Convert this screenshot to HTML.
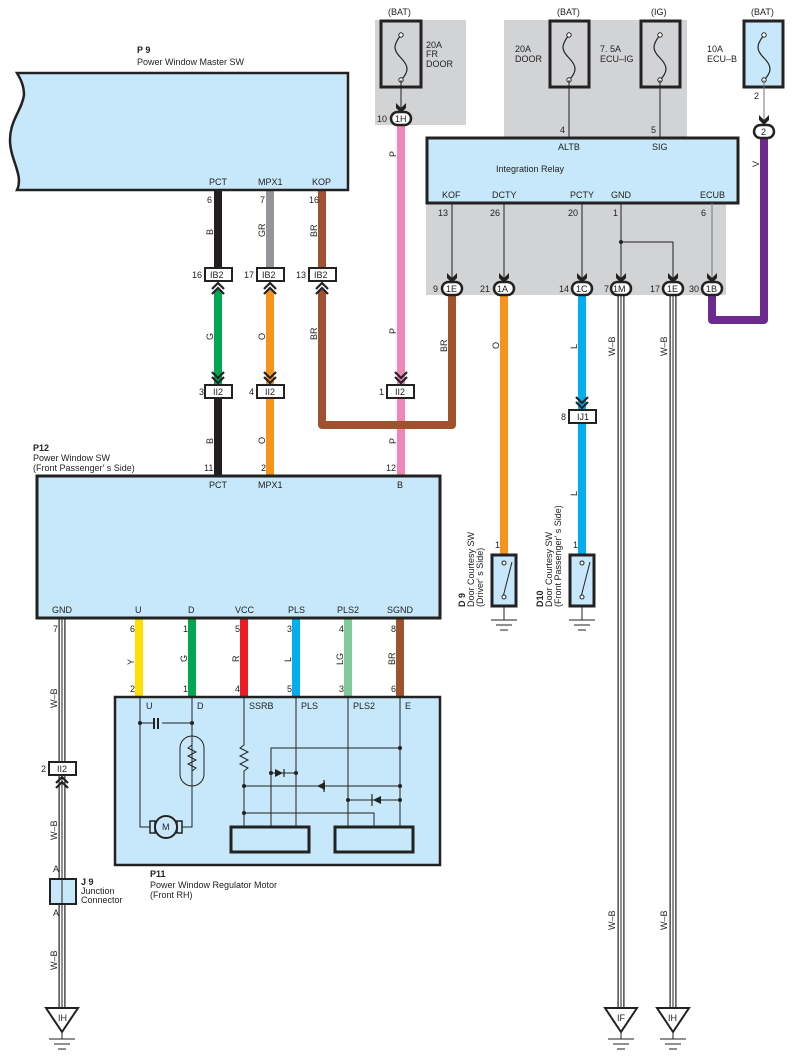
<!DOCTYPE html>
<html><head><meta charset="utf-8"><style>
html,body{margin:0;padding:0;background:#fff}
svg{display:block}
text{font-family:"Liberation Sans",sans-serif;font-size:9px;fill:#222}
.b{font-weight:bold}
</style></head><body>
<svg width="794" height="1061" viewBox="0 0 794 1061" xmlns="http://www.w3.org/2000/svg">
<defs>
<g id="dn"><path d="M-5,-9 L0,-4 L5,-9 L5,-4 L0,1 L-5,-4Z" fill="#222"/></g>
<g id="chu"><path d="M-6,6 L0,0 L6,6 M-6,11 L0,5 L6,11" stroke="#222" stroke-width="2.2" fill="none"/></g>
<g id="chd"><path d="M-6,-6 L0,0 L6,-6 M-6,-11 L0,-5 L6,-11" stroke="#222" stroke-width="2.2" fill="none"/></g>
<g id="gnd"><path d="M-13,0 H13 M-8,5 H8 M-4,10 H4" stroke="#222" stroke-width="1"/></g>
<g id="fuse"><path d="M0,-25 C-8,-15 -8,-10 0,-2 C8,6 8,12 0,20" stroke="#222" fill="none" stroke-width="1.2"/><circle cx="0" cy="-25" r="2.2" fill="#fff" stroke="#222"/><circle cx="0" cy="20" r="2.2" fill="#fff" stroke="#222"/></g>
</defs>

<!-- gray regions -->
<rect x="375" y="20" width="91" height="105" fill="#d2d3d5"/>
<rect x="504" y="20" width="183" height="120" fill="#d2d3d5"/>
<rect x="426" y="200" width="300" height="95" fill="#d2d3d5"/>

<!-- fuses -->
<text x="388" y="15">(BAT)</text>
<rect x="381" y="21" width="40" height="66" fill="none" stroke="#222" stroke-width="3"/>
<use href="#fuse" x="401" y="60"/>
<text x="426" y="48">20A</text><text x="426" y="57">FR</text><text x="426" y="67">DOOR</text>
<text x="557" y="15">(BAT)</text>
<rect x="550" y="21" width="39" height="66" fill="none" stroke="#222" stroke-width="3"/>
<use href="#fuse" x="569" y="60"/>
<text x="515" y="52">20A</text><text x="515" y="62">DOOR</text>
<text x="651" y="15">(IG)</text>
<rect x="641" y="21" width="39" height="66" fill="none" stroke="#222" stroke-width="3"/>
<use href="#fuse" x="660" y="60"/>
<text x="600" y="52">7. 5A</text><text x="600" y="62">ECU–IG</text>
<text x="751" y="15">(BAT)</text>
<rect x="744" y="21" width="39" height="66" fill="#c7e8fa" stroke="#222" stroke-width="3"/>
<use href="#fuse" x="764" y="60"/>
<text x="707" y="52">10A</text><text x="707" y="62">ECU–B</text>

<!-- fuse leads -->
<line x1="401" y1="80" x2="401" y2="112" stroke="#222"/>
<use href="#dn" x="401" y="112"/>
<line x1="569" y1="80" x2="569" y2="138" stroke="#222"/>
<text x="560" y="133">4</text>
<line x1="660" y1="80" x2="660" y2="138" stroke="#222"/>
<text x="651" y="133">5</text>
<line x1="764" y1="80" x2="764" y2="123" stroke="#777"/>
<text x="754" y="99">2</text>
<use href="#dn" x="764" y="124"/>

<!-- wires colored -->
<g fill="none" stroke-width="8" stroke-linejoin="round">
<path d="M401,124 V476" stroke="#f285b8"/>
<path d="M764,138 V320 H712 V295" stroke="#6b2a8c"/>
<path d="M218,190 V268" stroke="#231f20"/>
<path d="M218,290 V386" stroke="#00a651"/>
<path d="M218,398 V476" stroke="#231f20"/>
<path d="M270,190 V268" stroke="#939598"/>
<path d="M270,290 V476" stroke="#f7941d"/>
<path d="M322,190 V268" stroke="#a0522d"/>
<path d="M322,290 V425 H452 V295" stroke="#a0522d"/>
<path d="M504,295 V555" stroke="#f7941d"/>
<path d="M582,295 V555" stroke="#00aeef"/>
<path d="M139,618 V697" stroke="#ffde00"/>
<path d="M192,618 V697" stroke="#00a651"/>
<path d="M244,618 V697" stroke="#ed1c24"/>
<path d="M296,618 V697" stroke="#00aeef"/>
<path d="M348,618 V697" stroke="#7fcc9a"/>
<path d="M400,618 V697" stroke="#a0522d"/>
</g>
<!-- W-B triple lines -->
<g fill="none">
<path d="M62,618 V1010 M621,295 V1010 M673,295 V1010" stroke="#222" stroke-width="7"/>
<path d="M62,618 V1010 M621,295 V1010 M673,295 V1010" stroke="#fff" stroke-width="4.6"/>
<path d="M62,618 V1010 M621,295 V1010 M673,295 V1010" stroke="#222" stroke-width="1"/>
</g>

<!-- P9 -->
<text x="137" y="53" class="b">P 9</text>
<text x="137" y="65">Power Window Master SW</text>
<path d="M17,73 H348 V190 H17 C24,175 10,160 10,140 C10,120 22,110 24,95 C24,85 20,78 17,73Z" fill="#c7e8fa" stroke="#222" stroke-width="2.5"/>
<text x="209" y="185">PCT</text><text x="258" y="185">MPX1</text><text x="312" y="185">KOP</text>
<text x="207" y="203">6</text><text x="260" y="203">7</text><text x="309" y="203">16</text>
<g font-size="9">
<text transform="translate(213,235) rotate(-90)">B</text>
<text transform="translate(265,237) rotate(-90)">GR</text>
<text transform="translate(317,237) rotate(-90)">BR</text>
<text transform="translate(213,297+40) rotate(-90)"></text>
<text transform="translate(213,340) rotate(-90)">G</text>
<text transform="translate(265,340) rotate(-90)">O</text>
<text transform="translate(317,340) rotate(-90)">BR</text>
<text transform="translate(396,334) rotate(-90)">P</text>
<text transform="translate(396,157) rotate(-90)">P</text>
<text transform="translate(396,444) rotate(-90)">P</text>
<text transform="translate(213,444) rotate(-90)">B</text>
<text transform="translate(265,444) rotate(-90)">O</text>
<text transform="translate(447,352) rotate(-90)">BR</text>
<text transform="translate(499,349) rotate(-90)">O</text>
<text transform="translate(577,349) rotate(-90)">L</text>
<text transform="translate(577,496) rotate(-90)">L</text>
<text transform="translate(615,356) rotate(-90)">W–B</text>
<text transform="translate(667,356) rotate(-90)">W–B</text>
<text transform="translate(615,930) rotate(-90)">W–B</text>
<text transform="translate(667,930) rotate(-90)">W–B</text>
<text transform="translate(759,167) rotate(-90)">V</text>
<text transform="translate(57,708) rotate(-90)">W–B</text>
<text transform="translate(57,840) rotate(-90)">W–B</text>
<text transform="translate(57,970) rotate(-90)">W–B</text>
<text transform="translate(134,665) rotate(-90)">Y</text>
<text transform="translate(187,662) rotate(-90)">G</text>
<text transform="translate(239,662) rotate(-90)">R</text>
<text transform="translate(291,662) rotate(-90)">L</text>
<text transform="translate(343,665) rotate(-90)">LG</text>
<text transform="translate(395,665) rotate(-90)">BR</text>
</g>

<!-- IB2 connectors -->
<g stroke="#222" stroke-width="2" fill="#fff">
<rect x="205" y="268" width="27" height="13"/><rect x="257" y="268" width="27" height="13"/><rect x="309" y="268" width="27" height="13"/>
<rect x="205" y="385" width="27" height="13"/><rect x="257" y="385" width="27" height="13"/><rect x="387" y="385" width="27" height="13"/>
<rect x="569" y="410" width="27" height="13"/>
<rect x="49" y="762" width="27" height="13"/>
</g>
<text x="210" y="278">IB2</text><text x="262" y="278">IB2</text><text x="314" y="278">IB2</text>
<text x="192" y="278">16</text><text x="244" y="278">17</text><text x="296" y="278">13</text>
<text x="213" y="395">II2</text><text x="265" y="395">II2</text><text x="395" y="395">II2</text>
<text x="199" y="395">3</text><text x="249" y="395">4</text><text x="379" y="395">1</text>
<text x="577" y="420">IJ1</text><text x="561" y="420">8</text>
<text x="57" y="772">II2</text><text x="41" y="772">2</text>
<use href="#chu" x="218" y="283"/><use href="#chu" x="270" y="283"/><use href="#chu" x="322" y="283"/>
<use href="#chd" x="218" y="383"/><use href="#chd" x="270" y="383"/><use href="#chd" x="401" y="383"/>
<use href="#chd" x="582" y="408"/>
<use href="#chu" x="62" y="777"/>

<!-- 1H connector -->
<rect x="391" y="112" width="20" height="13" rx="6.5" fill="#fff" stroke="#222" stroke-width="2.5"/>
<text x="395" y="122">1H</text><text x="377" y="122">10</text>
<rect x="754" y="125" width="20" height="13" rx="6.5" fill="#fff" stroke="#222" stroke-width="2.5"/>
<text x="761" y="135">2</text>

<!-- Integration relay -->
<rect x="427" y="138" width="311" height="65" fill="#c7e8fa" stroke="#222" stroke-width="3"/>
<text x="558" y="150">ALTB</text><text x="652" y="150">SIG</text>
<text x="496" y="172">Integration Relay</text>
<text x="442" y="198">KOF</text><text x="492" y="198">DCTY</text><text x="570" y="198">PCTY</text><text x="611" y="198">GND</text><text x="700" y="198">ECUB</text>
<text x="438" y="216">13</text><text x="490" y="216">26</text><text x="568" y="216">20</text><text x="613" y="216">1</text><text x="701" y="216">6</text>
<g stroke="#222" fill="none">
<path d="M452,203 V278 M504,203 V278 M582,203 V278 M621,203 V278 M621,242 H673 V278"/>
<path d="M712,203 V278" stroke="#777"/>
</g>
<circle cx="621" cy="242" r="2" fill="#222"/>
<use href="#dn" x="452" y="282"/><use href="#dn" x="504" y="282"/><use href="#dn" x="582" y="282"/><use href="#dn" x="621" y="282"/><use href="#dn" x="673" y="282"/><use href="#dn" x="712" y="282"/>
<g fill="#fff" stroke="#222" stroke-width="2.5">
<rect x="442" y="282" width="20" height="13" rx="6.5"/><rect x="494" y="282" width="20" height="13" rx="6.5"/><rect x="572" y="282" width="20" height="13" rx="6.5"/><rect x="611" y="282" width="20" height="13" rx="6.5"/><rect x="663" y="282" width="20" height="13" rx="6.5"/><rect x="702" y="282" width="20" height="13" rx="6.5"/>
</g>
<text x="446" y="292">1E</text><text x="497" y="292">1A</text><text x="576" y="292">1C</text><text x="613" y="292">1M</text><text x="667" y="292">1E</text><text x="706" y="292">1B</text>
<text x="433" y="292">9</text><text x="480" y="292">21</text><text x="559" y="292">14</text><text x="604" y="292">7</text><text x="650" y="292">17</text><text x="689" y="292">30</text>

<!-- Door courtesy switches -->
<text x="495" y="548">1</text><text x="573" y="548">1</text>
<rect x="492" y="555" width="24" height="51" fill="#c7e8fa" stroke="#222" stroke-width="3"/>
<rect x="570" y="555" width="24" height="51" fill="#c7e8fa" stroke="#222" stroke-width="3"/>
<g stroke="#222" fill="#fff">
<line x1="503" y1="597" x2="512" y2="562"/><circle cx="504" cy="563" r="2"/><circle cx="504" cy="597" r="2"/>
<line x1="581" y1="597" x2="590" y2="562"/><circle cx="582" cy="563" r="2"/><circle cx="582" cy="597" r="2"/>
<line x1="504" y1="606" x2="504" y2="620"/><line x1="582" y1="606" x2="582" y2="620"/>
</g>
<use href="#gnd" x="504" y="620"/><use href="#gnd" x="582" y="620"/>
<g>
<text transform="translate(465,607) rotate(-90)" class="b">D 9</text>
<text transform="translate(474,607) rotate(-90)">Door Courtesy SW</text>
<text transform="translate(483,607) rotate(-90)">(Driver' s Side)</text>
<text transform="translate(543,607) rotate(-90)" class="b">D10</text>
<text transform="translate(552,607) rotate(-90)">Door Courtesy SW</text>
<text transform="translate(561,607) rotate(-90)">(Front Passenger' s Side)</text>
</g>

<!-- P12 -->
<text x="33" y="451" class="b">P12</text>
<text x="33" y="461">Power Window SW</text>
<text x="33" y="471">(Front Passenger' s Side)</text>
<text x="204" y="471">11</text><text x="261" y="471">2</text><text x="386" y="471">12</text>
<rect x="37" y="476" width="403" height="142" fill="#c7e8fa" stroke="#222" stroke-width="3"/>
<text x="209" y="488">PCT</text><text x="258" y="488">MPX1</text><text x="397" y="488">B</text>
<text x="52" y="613">GND</text><text x="135" y="613">U</text><text x="188" y="613">D</text><text x="235" y="613">VCC</text><text x="288" y="613">PLS</text><text x="337" y="613">PLS2</text><text x="387" y="613">SGND</text>
<text x="53" y="632">7</text><text x="130" y="632">6</text><text x="183" y="632">1</text><text x="235" y="632">5</text><text x="287" y="632">3</text><text x="339" y="632">4</text><text x="391" y="632">8</text>
<text x="130" y="692">2</text><text x="183" y="692">1</text><text x="235" y="692">4</text><text x="287" y="692">5</text><text x="339" y="692">3</text><text x="391" y="692">6</text>

<!-- P11 -->
<rect x="115" y="697" width="325" height="168" fill="#c7e8fa" stroke="#222" stroke-width="2.5"/>
<text x="146" y="709">U</text><text x="197" y="709">D</text><text x="249" y="709">SSRB</text><text x="301" y="709">PLS</text><text x="353" y="709">PLS2</text><text x="405" y="709">E</text>
<g stroke="#222" fill="none" stroke-width="1">
<path d="M140,697 V827 H150 M192,697 V827 H182"/>
<path d="M140,723 H155 M162,723 H192"/>
<path d="M244,697 V745 l-4,3 8,4 -8,4 8,4 -8,4 8,4 -4,3 V827"/>
<path d="M296,697 V827 M348,697 V827 M400,697 V827"/>
<path d="M271,827 V748 H400"/>
<path d="M244,786 H400"/>
<path d="M348,800 H400"/>
<path d="M244,813 H374 V827"/>
<path d="M271,773 H296"/>
</g>
<rect x="180" y="736" width="24" height="50" rx="12" fill="none" stroke="#222"/>
<path d="M192,745 l-4,3 8,4 -8,4 8,4 -8,4 8,4 -4,3" stroke="#222" fill="none"/>
<path d="M154,718 V729 M158,718 V729" stroke="#222" stroke-width="2"/>
<circle cx="166" cy="827" r="11" fill="#c7e8fa" stroke="#222" stroke-width="2"/>
<rect x="150" y="821" width="5" height="12" fill="none" stroke="#222" stroke-width="1.5"/>
<rect x="177" y="821" width="5" height="12" fill="none" stroke="#222" stroke-width="1.5"/>
<text x="162" y="830" font-size="8">M</text>
<rect x="231" y="827" width="78" height="25" fill="none" stroke="#222" stroke-width="3"/>
<rect x="335" y="827" width="78" height="25" fill="none" stroke="#222" stroke-width="3"/>
<path d="M275,769 V777 L283,773Z M317,786 L325,782 V790Z M373,800 L381,796 V804Z" fill="#222"/>
<path d="M284,769 V777 M324,780 V792 M372,794 V806" stroke="#222" stroke-width="1.2"/>
<g fill="#222">
<circle cx="140" cy="723" r="2"/><circle cx="192" cy="723" r="2"/><circle cx="400" cy="748" r="2"/><circle cx="271" cy="773" r="2"/><circle cx="296" cy="773" r="2"/><circle cx="244" cy="786" r="2"/><circle cx="400" cy="786" r="2"/><circle cx="348" cy="800" r="2"/><circle cx="400" cy="800" r="2"/><circle cx="244" cy="813" r="2"/>
</g>
<text x="150" y="877" class="b">P11</text>
<text x="150" y="888">Power Window Regulator Motor</text>
<text x="150" y="898">(Front RH)</text>

<!-- J9 -->
<text x="53" y="872">A</text>
<rect x="50" y="879" width="26" height="25" fill="#c7e8fa" stroke="#222" stroke-width="2"/>
<line x1="62" y1="879" x2="62" y2="904" stroke="#222"/>
<text x="53" y="916">A</text>
<text x="81" y="885" class="b">J 9</text>
<text x="81" y="894">Junction</text>
<text x="81" y="903">Connector</text>

<!-- ground triangles -->
<g fill="#fff" stroke="#222" stroke-width="2">
<path d="M46,1008 H78 L62,1032Z"/>
<path d="M605,1008 H637 L621,1032Z"/>
<path d="M657,1008 H689 L673,1032Z"/>
</g>
<text x="58" y="1021">IH</text><text x="617" y="1021">IF</text><text x="668" y="1021">IH</text>
<g stroke="#222"><line x1="62" y1="1032" x2="62" y2="1039"/><line x1="621" y1="1032" x2="621" y2="1039"/><line x1="673" y1="1032" x2="673" y2="1039"/></g>
<use href="#gnd" x="62" y="1039"/><use href="#gnd" x="621" y="1039"/><use href="#gnd" x="673" y="1039"/>
</svg>
</body></html>
